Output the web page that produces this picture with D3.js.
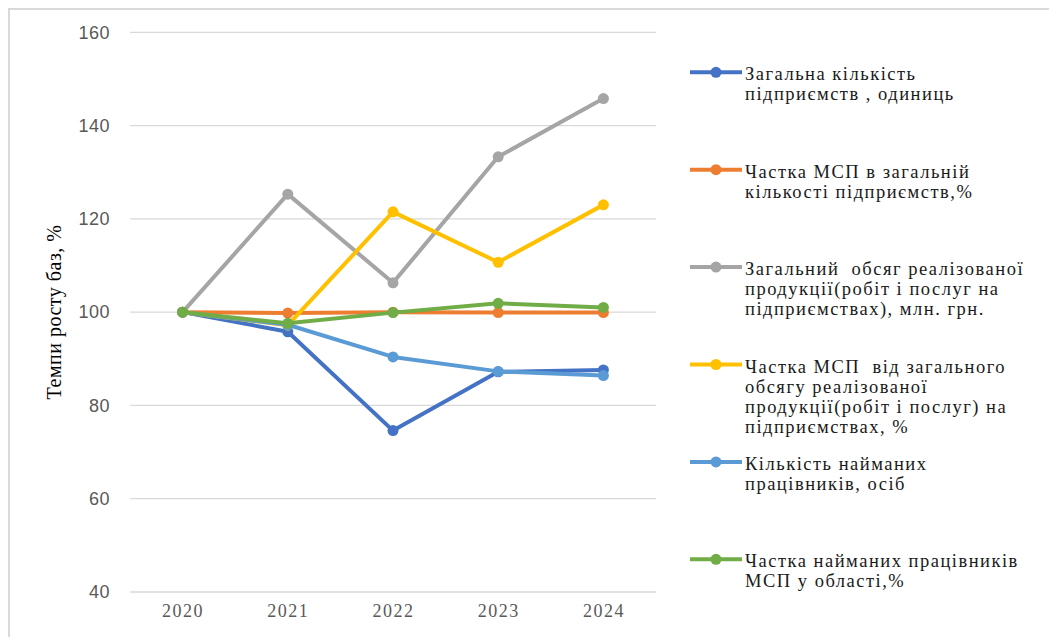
<!DOCTYPE html>
<html>
<head>
<meta charset="utf-8">
<script src="https://cdn.jsdelivr.net/npm/d3@7"></script>
<style>
	body { margin: 0; background: #fff; }
</style>
</head>
<body>
<div id="chart"></div>
<script>
// years on x axis
var years = ["2020", "2021", "2022", "2023", "2024"];
var yTicks = [40, 60, 80, 100, 120, 140, 160];

// series values (growth rate, base 2020 = 100%)
var totalEnterprises = [100, 95.8, 74.6, 87.2, 87.6];
var smeShareEnterprises = [100, 99.8, 100, 99.9, 99.9];
var totalSales = [100, 125.3, 106.3, 133.3, 145.8];
var smeShareSales = [100, 97.2, 121.5, 110.7, 123.0];
var employees = [100, 97.3, 90.4, 87.3, 86.4];
var smeShareEmployees = [100, 97.6, 99.9, 101.9, 101.0];

var seriesNames = [
	["Загальна кількість", "підприємств , одиниць"],
	["Частка МСП в загальній", "кількості підприємств,%"],
	["Загальний  обсяг реалізованої", "продукції(робіт і послуг на", "підприємствах), млн. грн."],
	["Частка МСП  від загального", "обсягу реалізованої", "продукції(робіт і послуг) на", "підприємствах, %"],
	["Кількість найманих", "працівників, осіб"],
	["Частка найманих працівників", "МСП у області,%"]
];
var seriesColors = ["#4472C4", "#ED7D31", "#A5A5A5", "#FFC000", "#5B9BD5", "#70AD47"];
var seriesValues = [totalEnterprises, smeShareEnterprises, totalSales, smeShareSales, employees, smeShareEmployees];

var W = 1049, H = 637;
var margin = { left: 130, top: 32, right: 393, bottom: 45 };

var svg = d3.select("#chart").append("svg")
	.attr("width", W)
	.attr("height", H);

// outer frame (cropped on right and bottom)
svg.append("rect")
	.attr("x", 9).attr("y", 9)
	.attr("width", W + 10).attr("height", H + 10)
	.attr("fill", "none")
	.attr("stroke", "#d9d9d9")
	.attr("stroke-width", 2);

var x = d3.scalePoint()
	.domain(years)
	.range([margin.left, W - margin.right])
	.padding(0.5);

var y = d3.scaleLinear()
	.domain([40, 160])
	.range([592, 32.3]);

// gridlines
svg.append("g")
	.selectAll("line")
	.data(yTicks)
	.enter()
	.append("line")
	.attr("x1", margin.left)
	.attr("x2", W - margin.right)
	.attr("y1", function (d) { return y(d); })
	.attr("y2", function (d) { return y(d); })
	.attr("stroke", "#d9d9d9")
	.attr("stroke-width", 1.3);

// y axis labels
var yAxis = svg.append("g")
	.attr("transform", "translate(" + (margin.left - 20) + ",0)")
	.call(d3.axisLeft(y).tickValues(yTicks).tickSize(0).tickPadding(0));
yAxis.select(".domain").remove();
yAxis.selectAll("text")
	.style("font-family", "'Liberation Sans', Arial, sans-serif")
	.style("font-size", "18px")
	.style("letter-spacing", "0.5px")
	.attr("fill", "#595959");

// x axis labels
var xAxis = svg.append("g")
	.attr("transform", "translate(0," + 604 + ")")
	.call(d3.axisBottom(x).tickSize(0).tickPadding(0));
xAxis.select(".domain").remove();
xAxis.selectAll("text")
	.style("font-family", "'Liberation Serif', 'Times New Roman', serif")
	.style("font-size", "18px")
	.style("letter-spacing", "1.5px")
	.attr("fill", "#595959");

// y axis title
svg.append("text")
	.attr("transform", "translate(61,312) rotate(-90)")
	.attr("text-anchor", "middle")
	.style("font-family", "'Liberation Serif', 'Times New Roman', serif")
	.style("font-size", "20px")
	.style("letter-spacing", "0.5px")
	.attr("fill", "#000")
	.text("Темпи росту баз, %");

var line = d3.line()
	.x(function (d, i) { return x(years[i]); })
	.y(function (d) { return y(d); });

seriesValues.forEach(function (vals, k) {
	var g = svg.append("g");
	g.append("path")
		.datum(vals)
		.attr("d", line)
		.attr("fill", "none")
		.attr("stroke", seriesColors[k])
		.attr("stroke-width", 4)
		.attr("stroke-linejoin", "round");
	g.selectAll("circle")
		.data(vals)
		.enter()
		.append("circle")
		.attr("cx", function (d, i) { return x(years[i]); })
		.attr("cy", function (d) { return y(d); })
		.attr("r", 5.5)
		.attr("fill", seriesColors[k]);
});

// legend
var legend = svg.append("g");
seriesNames.forEach(function (lines, k) {
	var ly = 72.3 + k * 97.4;
	var item = legend.append("g").attr("transform", "translate(0," + ly + ")");
	item.append("line")
		.attr("x1", 690).attr("x2", 742)
		.attr("y1", 0).attr("y2", 0)
		.attr("stroke", seriesColors[k])
		.attr("stroke-width", 4);
	item.append("circle")
		.attr("cx", 716).attr("cy", 0)
		.attr("r", 5.5)
		.attr("fill", seriesColors[k]);
	var t = item.append("text")
		.attr("x", 745)
		.attr("y", 8)
		.style("font-family", "'Liberation Serif', 'Times New Roman', serif")
		.style("font-size", "18.5px")
		.style("letter-spacing", "1.5px")
		.attr("fill", "#1a1a1a");
	lines.forEach(function (s, j) {
		t.append("tspan")
			.attr("x", 745)
			.attr("dy", j === 0 ? 0 : 20)
			.style("white-space", "pre")
			.text(s);
	});
});
</script>
</body>
</html>
